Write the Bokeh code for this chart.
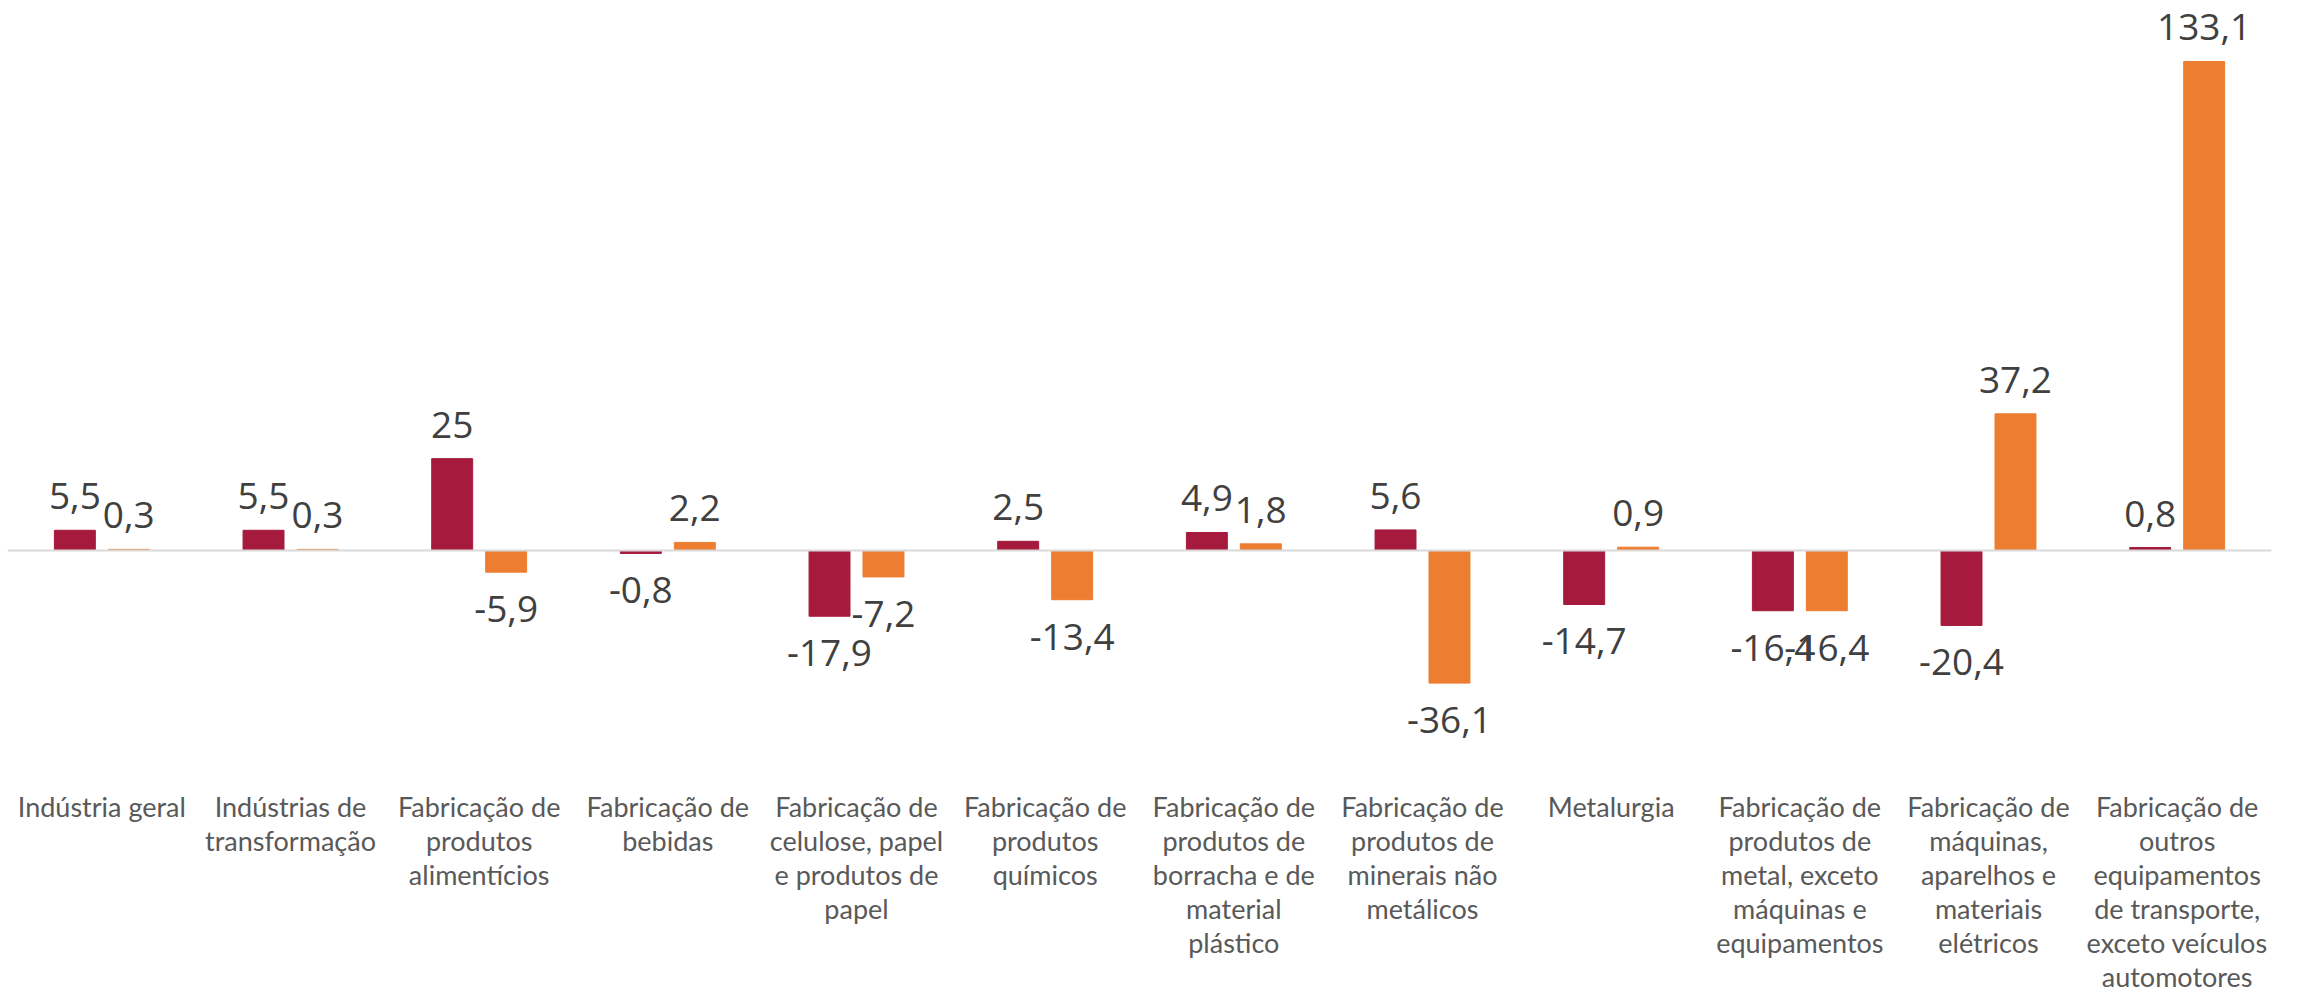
from bokeh.plotting import figure
from bokeh.models import ColumnDataSource, FactorRange, Range1d, Span
from bokeh.transform import dodge
from bokeh.core.properties import value
from bokeh.embed import file_html
from bokeh.resources import INLINE

categories = [
    "Indústria geral",
    "Indústrias de\ntransformação",
    "Fabricação de\nprodutos\nalimentícios",
    "Fabricação de\nbebidas",
    "Fabricação de\ncelulose, papel\ne produtos de\npapel",
    "Fabricação de\nprodutos\nquímicos",
    "Fabricação de\nprodutos de\nborracha e de\nmaterial\nplástico",
    "Fabricação de\nprodutos de\nminerais não\nmetálicos",
    "Metalurgia",
    "Fabricação de\nprodutos de\nmetal, exceto\nmáquinas e\nequipamentos",
    "Fabricação de\nmáquinas,\naparelhos e\nmateriais\nelétricos",
    "Fabricação de\noutros\nequipamentos\nde transporte,\nexceto veículos\nautomotores",
]
series_a = [5.5, 5.5, 25, -0.8, -17.9, 2.5, 4.9, 5.6, -14.7, -16.4, -20.4, 0.8]
series_b = [0.3, 0.3, -5.9, 2.2, -7.2, -13.4, 1.8, -36.1, 0.9, -16.4, 37.2, 133.1]

RED = "#A51A3D"
ORANGE = "#ED7D31"


def fmt(v):
    return f"{v:g}".replace(".", ",")


def src(vals):
    return ColumnDataSource(dict(
        cat=categories,
        val=vals,
        lab=[fmt(v) for v in vals],
        off=[-34 if v >= 0 else 37 for v in vals],
    ))


sa = src(series_a)
sb = src(series_b)

p = figure(
    width=2298, height=996,
    x_range=FactorRange(*categories, range_padding=0),
    y_range=Range1d(-121.4, 149.7),
    output_backend="svg", toolbar_location=None,
    x_axis_location=None, y_axis_location=None,
    min_border_left=7, min_border_right=27, min_border_top=0, min_border_bottom=0,
)
p.grid.visible = False
p.outline_line_color = None
p.background_fill_color = "white"
p.border_fill_color = "white"

OFF = 0.143
W = 0.217

p.vbar(x=dodge("cat", -OFF, range=p.x_range), top="val", bottom=0, width=W,
       source=sa, fill_color=RED, line_color=RED)
p.vbar(x=dodge("cat", OFF, range=p.x_range), top="val", bottom=0, width=W,
       source=sb, fill_color=ORANGE, line_color=ORANGE)

p.add_layout(Span(location=0, dimension="width", line_color="#D9D9D9", line_width=2))

for s, d in ((sa, -OFF), (sb, OFF)):
    p.text(x=dodge("cat", d, range=p.x_range), y="val", text="lab", y_offset="off",
           source=s, text_align="center", text_baseline="middle",
           text_font=value("Open Sans"), text_font_size="37px", text_color="#404040")

cs = ColumnDataSource(dict(cat=categories, z=[0] * len(categories)))
p.text(x="cat", y="z", text="cat", source=cs, y_offset=240,
       text_align="center", text_baseline="top",
       text_font=value("Lato"), text_font_size="27px", text_color="#595959",
       text_line_height=1.03)

open("out.html", "w").write(file_html(p, INLINE))
